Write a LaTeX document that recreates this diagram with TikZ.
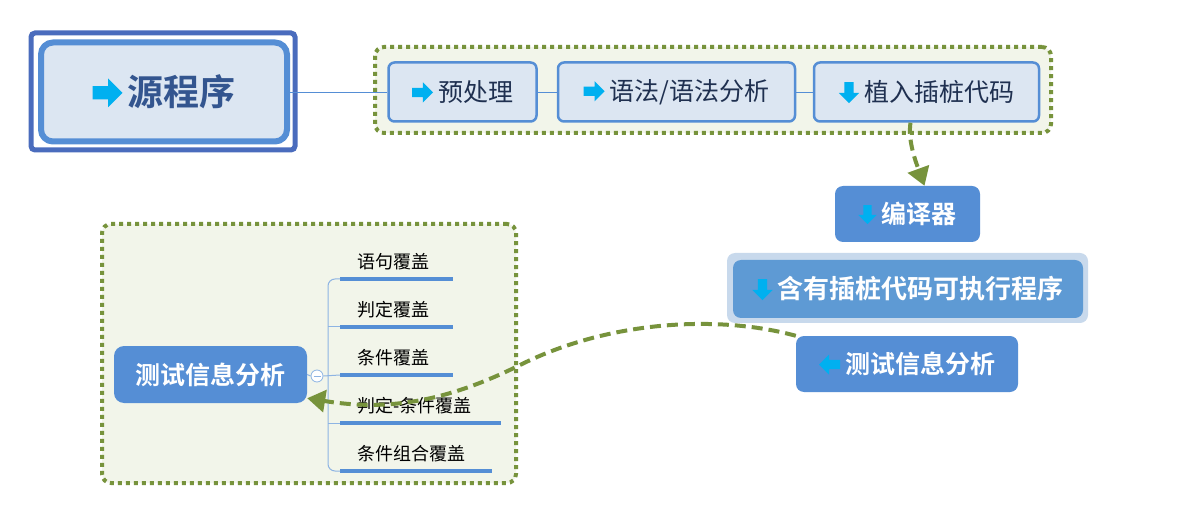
\documentclass[tikz,border=0pt]{standalone}
\usepackage{fontspec}
\setmainfont{Noto Sans CJK SC}[BoldFont={Noto Sans CJK SC Bold}]
\usetikzlibrary{arrows.meta}
\definecolor{frameblue}{HTML}{4A6CBD}
\definecolor{boxline}{HTML}{558ED5}
\definecolor{boxfill}{HTML}{DCE6F2}
\definecolor{boxtext}{HTML}{1F3050}
\definecolor{titletext}{HTML}{33558F}
\definecolor{nodeblue}{HTML}{558ED5}
\definecolor{exeblue}{HTML}{5E9AD4}
\definecolor{halo}{HTML}{C8D9EC}
\definecolor{groupgreen}{HTML}{77933C}
\definecolor{groupfill}{HTML}{F2F5EA}
\definecolor{treeline}{HTML}{8EB4E3}
\definecolor{iconcyan}{HTML}{00B0F0}
% block arrow icon: #1 direction angle, #2 size
\newcommand{\icon}[2]{\tikz[sharp corners, x=#2, y=#2, rotate=#1, baseline={([yshift=-0.36em]current bounding box.center)}]
  \fill[iconcyan, sharp corners] (0,-.22) -- (.52,-.22) -- (.52,-.48) -- (1,0) -- (.52,.48) -- (.52,.22) -- (0,.22) -- cycle;\hspace{5pt}}
\newcommand{\rarr}[1][21pt]{\icon{0}{#1}}
\newcommand{\darr}[1][21pt]{\icon{-90}{#1}}
\newcommand{\larr}[1][21pt]{\icon{180}{#1}}
\tikzset{%
  every box/.style={
    rectangle,
    draw=boxline,
    line width=2.5pt,
    fill=boxfill,
    rounded corners=6pt,
    text=boxtext,
    inner sep=0pt,
    minimum height=59pt,
    font=\fontsize{25}{25}\selectfont
  },
  blue node/.style={
    rectangle,
    fill=nodeblue,
    rounded corners=8pt,
    text=white,
    inner sep=0pt,
    font=\bfseries\fontsize{25}{25}\selectfont
  },
  group/.style={
    rectangle,
    draw=groupgreen,
    fill=groupfill,
    line width=4pt,
    dash pattern=on 4pt off 4pt,
    rounded corners=9pt
  },
  link/.style={draw=boxline, line width=0.8pt},
  branch/.style={draw=treeline, line width=1pt},
  underline/.style={draw=boxline, line width=4pt},
  cov label/.style={anchor=west, inner sep=0pt, font=\fontsize{18}{18}\selectfont},
  flow/.style={
    draw=groupgreen,
    line width=4pt,
    dash pattern=on 11pt off 6pt,
    -{Triangle[width=22pt,length=18pt]}
  },
}
\begin{document}
\begin{tikzpicture}[x=1pt, y=-1pt]

\useasboundingbox[fill=white] (0,0) rectangle (1177,518);

% containers
\node [group, minimum width=676pt, minimum height=86pt] (topgroup) at (713,90) {};
\node [group, minimum width=414pt, minimum height=259pt] (covgroup) at (309,353.5) {};

% source program
\node [draw=frameblue, line width=5pt, rounded corners=4pt,
  minimum width=264pt, minimum height=117pt] (srcframe) at (163,91.5) {};
\node [draw=boxline, line width=6pt, fill=boxfill, rounded corners=12pt,
  minimum width=246pt, minimum height=99pt, text=titletext,
  font=\bfseries\fontsize{36}{36}\selectfont] (src) at (164,92) {\rarr[30pt]源程序};

% preprocessing chain
\node [every box, minimum width=148pt] (pre) at (462.5,92) {\rarr 预处理};
\node [every box, minimum width=237pt] (syn) at (676.5,92) {\rarr 语法/语法分析};
\node [every box, minimum width=225pt] (plant) at (926.5,92) {\darr 植入插桩代码};

\draw [link] (src.east) -- (pre.west);
\draw [link] (pre.east) -- (syn.west);
\draw [link] (syn.east) -- (plant.west);

% compile and run
\node [blue node, minimum width=145pt, minimum height=56pt] (comp) at (907.5,214) {\darr[19pt]编译器};
\node [fill=halo, rounded corners=8pt, minimum width=361pt, minimum height=70pt] (exehalo) at (907.5,288) {};
\node [blue node, fill=exeblue, minimum width=350pt, minimum height=58pt,
  font=\bfseries\fontsize{26}{26}\selectfont] (exe) at (908,289) {\darr 含有插桩代码可执行程序};
\node [blue node, minimum width=222pt, minimum height=56pt] (ana) at (907,364) {\larr 测试信息分析};

% coverage tree
\node [blue node, rounded corners=10pt, minimum width=193pt, minimum height=57pt] (covroot) at (210.5,374.5) {测试信息分析};
\node [circle, draw=treeline, fill=white, line width=0.8pt, minimum size=12pt, inner sep=0pt] (fold) at (317,376) {};
\draw [branch] ([xshift=-3.5pt]fold.center) -- ([xshift=3.5pt]fold.center);

\foreach \txt/\y/\len [count=\i] in {语句覆盖/279/113, 判定覆盖/327/113, 条件覆盖/375/113, 判定-条件覆盖/423/161, 条件组合覆盖/471/152} {
  \coordinate (spine-\i) at (328,\y);
  \coordinate (ul-\i) at (340,\y);
  \draw [underline] (ul-\i) -- ++(\len,0);
  \node [cov label] (cov-\i) at (357,\y-17) {\txt};
}

\draw [branch] (covroot.east) -- (fold.west);
\draw [branch] (fold.east) -- (ul-3);
\draw [branch, rounded corners=7pt] (ul-1) -- (spine-1) -- (spine-5) -- (ul-5);
\foreach \i in {2,4}
  \draw [branch] (spine-\i) -- (ul-\i);

% flow arrows
\draw [flow] ([xshift=-16pt]plant.south) .. controls +(-3,18) and +(-8,-22) .. ([xshift=17pt]comp.north);

\coordinate (bend) at (520,365);
\draw [flow] (ana.north west) .. controls +(-76,-21) and +(90,-45) .. (bend)
  .. controls +(-80,40) and +(74,12) .. ([yshift=5pt]covroot.south east);

\end{tikzpicture}
\end{document}
